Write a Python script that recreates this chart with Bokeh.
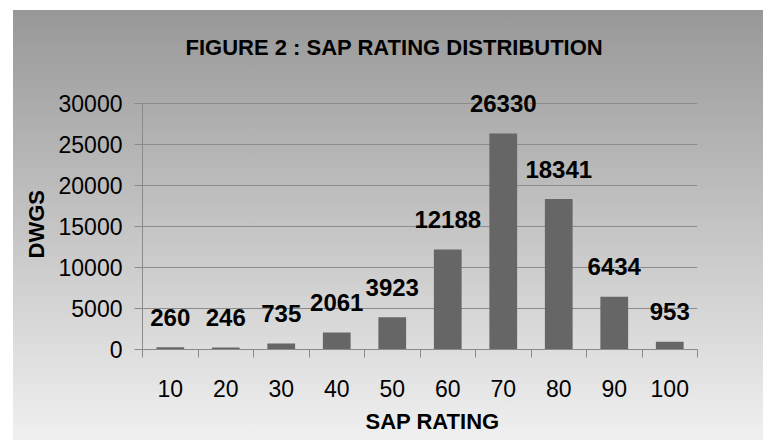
from bokeh.plotting import figure
from bokeh.models import ColumnDataSource, FixedTicker, Range1d, LabelSet, Title
from bokeh.core.properties import value
from bokeh.embed import file_html
from bokeh.resources import INLINE

# ---- data ----
categories = ["10", "20", "30", "40", "50", "60", "70", "80", "90", "100"]
counts = [260, 246, 735, 2061, 3923, 12188, 26330, 18341, 6434, 953]
y_ticks = [0, 5000, 10000, 15000, 20000, 25000, 30000]
title_text = "FIGURE 2 : SAP RATING DISTRIBUTION"
x_title = "SAP RATING"
y_title = "DWGS"

n = len(categories)
centers = [i + 0.5 for i in range(n)]
boundaries = [float(i) for i in range(n + 1)]

src = ColumnDataSource(dict(x=centers, count=counts, label=[str(c) for c in counts]))

p = figure(width=750, height=430,
           x_range=Range1d(0, n), y_range=Range1d(0, 32683),
           output_backend="svg", toolbar_location=None,
           min_border_left=129, min_border_right=66,
           min_border_top=71, min_border_bottom=91)
p.margin = (10, 0, 0, 13)
p.background_fill_alpha = 0
p.border_fill_alpha = 0
p.styles = {"background": "linear-gradient(to bottom, #989898 0%, #f0f0f0 100%)"}
p.outline_line_color = None

p.vbar(x="x", top="count", width=0.5, source=src, fill_color="#666666", line_color=None)

labels = LabelSet(x="x", y="count", text="label", source=src,
                  text_align="center", text_baseline="middle", y_offset=30,
                  text_font=value("Liberation Sans"), text_font_style="bold",
                  text_font_size="24px", text_color="#000000")
p.add_layout(labels)

axis_col = "#8a8a8a"
# x axis
p.xaxis.ticker = FixedTicker(ticks=centers, minor_ticks=boundaries)
p.xaxis.major_label_overrides = {c: lab for c, lab in zip(centers, categories)}
p.xaxis.major_tick_out = 0
p.xaxis.major_tick_in = 0
p.xaxis.minor_tick_out = 8
p.xaxis.minor_tick_in = 0
p.xaxis.minor_tick_line_color = axis_col
p.xaxis.axis_line_color = axis_col
p.xaxis.major_label_standoff = 22
p.xaxis.major_label_text_font = "Liberation Sans"
p.xaxis.major_label_text_font_size = "23px"
p.xaxis.major_label_text_color = "#000000"

# y axis
p.yaxis.ticker = FixedTicker(ticks=y_ticks)
p.yaxis.bounds = (0, 30000)
p.yaxis.major_label_overrides = {t: str(t) for t in y_ticks}
p.yaxis.major_tick_out = 8
p.yaxis.major_tick_in = 0
p.yaxis.minor_tick_line_color = None
p.yaxis.major_tick_line_color = axis_col
p.yaxis.axis_line_color = axis_col
p.yaxis.major_label_standoff = 12
p.yaxis.major_label_text_font = "Liberation Sans"
p.yaxis.major_label_text_font_size = "23px"
p.yaxis.major_label_text_color = "#000000"

p.xgrid.grid_line_color = None
p.ygrid.grid_line_color = "#8c8c8c"
p.ygrid.grid_line_width = 1

font = "Liberation Sans"
p.title.text = title_text
p.title.align = "left"
p.title.offset = 43
p.title.text_font = font
p.title.text_font_style = "bold"
p.title.text_font_size = "22px"
p.title.text_color = "#000000"
p.title.standoff = 43

p.add_layout(Title(text=x_title, align="left", offset=223, text_font=font,
                   text_font_style="bold", text_font_size="22px",
                   text_color="#000000", standoff=14), "below")
p.add_layout(Title(text=y_title, align="left", offset=91, text_font=font,
                   text_font_style="bold", text_font_size="22px",
                   text_color="#000000", standoff=14), "left")

open("out.html", "w").write(file_html(p, INLINE))
